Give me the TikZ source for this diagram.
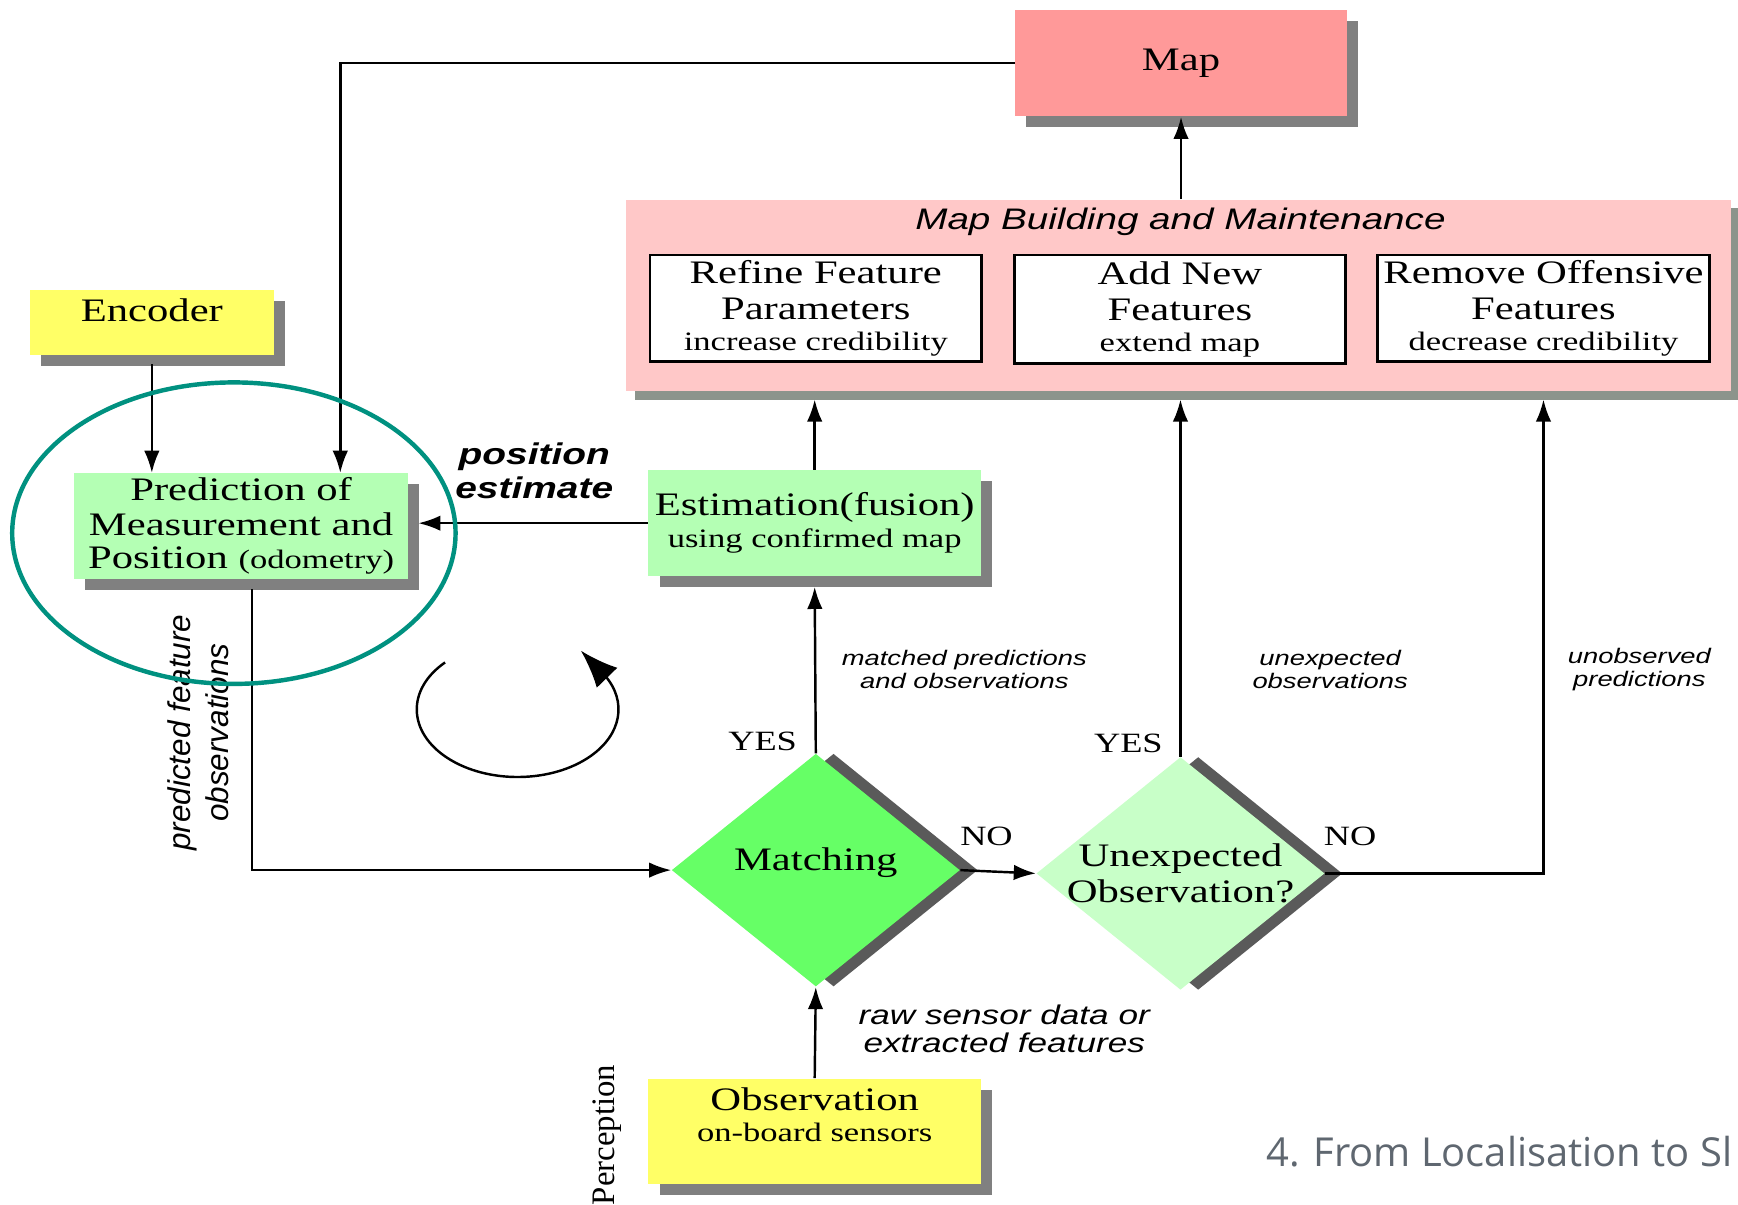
\documentclass[tikz,border=0pt]{standalone}
\usepackage{fontspec}
\setmainfont[FakeStretch=1.3]{Liberation Serif}
\newfontfamily\lblfont[FakeStretch=1.3]{Liberation Sans}
\newfontfamily\rotfont{Liberation Sans}
\newfontfamily\rotserif{Liberation Serif}
\newfontfamily\footfont{Open Sans}
\usetikzlibrary{shapes.geometric,shadows,arrows.meta,calc}

\definecolor{mapred}{RGB}{255,153,153}
\definecolor{mappink}{RGB}{255,200,200}
\definecolor{pinkshd}{RGB}{140,148,140}
\definecolor{boxshd}{RGB}{128,128,128}
\definecolor{diashd}{RGB}{90,90,90}
\definecolor{palegreen}{RGB}{180,255,180}
\definecolor{lightgreen}{RGB}{200,255,200}
\definecolor{brightgreen}{RGB}{102,255,102}
\definecolor{boxyellow}{RGB}{255,255,102}
\definecolor{ringteal}{RGB}{0,145,128}
\definecolor{footgray}{RGB}{95,103,112}

\newcommand\smalltxt{\fontsize{12}{13}\selectfont}

\begin{document}
\begin{tikzpicture}[x=0.5pt,y=-0.5pt,
  font=\fontsize{14.8}{16}\selectfont,
  box/.style={rectangle,inner sep=0pt,align=center,minimum width=150pt,minimum height=48pt,
    drop shadow={shadow xshift=5pt,shadow yshift=-5pt,fill=boxshd,opacity=1}},
  wbox/.style={rectangle,draw,line width=1.2pt,fill=white,inner sep=0pt,align=center,
    minimum width=149.5pt,minimum height=48pt},
  diam/.style={diamond,inner sep=0pt,minimum width=130pt,minimum height=105pt,
    drop shadow={shadow xshift=8pt,shadow yshift=0pt,fill=diashd,opacity=1}},
  arr/.style={line width=1.1pt,-{Latex[length=10pt,width=7pt]}},
  lbl/.style={font=\lblfont\itshape\fontsize{9.5}{10}\selectfont,align=center},
  biglbl/.style={font=\lblfont\itshape\fontsize{12.2}{12.5}\selectfont,align=center},
  yn/.style={font=\fontsize{12.6}{14}\selectfont}]
\clip (0,0) rectangle (1568,1087);

% map and map building
\node[box,fill=mapred,minimum width=149.5pt] (map) at (1065.5,57) {Map};
\node[rectangle,fill=mappink,minimum width=498.5pt,minimum height=86.5pt,
  drop shadow={shadow xshift=4pt,shadow yshift=-4pt,fill=pinkshd,opacity=1}] (mbm) at (1063.5,266.5) {};
\node[font=\lblfont\itshape\fontsize{13.4}{15}\selectfont] (mbmtitle) at (1065,200) {Map Building and Maintenance};
\node[wbox] (refine) at (736,278) {Refine Feature\\Parameters\\[-2pt]{\smalltxt increase credibility}};
\node[wbox,minimum height=49pt] (addnew) at (1064.5,279) {Add New\\Features\\[-2pt]{\smalltxt extend map}};
\node[wbox] (remove) at (1392.5,278) {Remove Offensive\\Features\\[-2pt]{\smalltxt decrease credibility}};

% left side
\node[box,fill=boxyellow,minimum width=110pt,minimum height=29pt,
  label={[yshift=5.5pt]center:Encoder}] (enc) at (137,291) {};
\node[box,fill=palegreen,minimum width=150.5pt,minimum height=47.5pt] (pred) at (217.5,474.5)
  {Prediction of\\Measurement and\\[-1pt]Position {\smalltxt (odometry)}};
\node[box,fill=palegreen] (est) at (735,472) {Estimation(fusion)\\[-1.5pt]{\smalltxt using confirmed map}};

% decisions
\node[diam,fill=brightgreen,label={[yshift=3.5pt]center:Matching}] (match) at (736,785) {};
\node[diam,fill=lightgreen,label={[align=center]center:{Unexpected\\Observation?}}] (unexp) at (1065,788) {};

% perception
\node[box,fill=boxyellow,minimum height=47.5pt] (obs) at (735,1020.5) {};
\node[align=center] (obstext) at (735,1006) {Observation\\[-2pt]{\smalltxt on-board sensors}};

% connectors
\draw[arr] (map.south |- mbm.north) -- (map.south);
\draw[arr] (map.west) -| ([xshift=44.75pt]pred.north);
\draw[arr] ([yshift=-4pt]enc.south) -- (enc.south |- pred.north);
\draw[arr] (est.west) -- ($(est.west -| pred.east)+(9,0)$);
\draw[arr] (est.north) -- ($(est.north |- mbm.south)+(0,7)$);
\draw[arr] (match.north) -- ($(est.south)+(0,9)$);
\draw[arr] (unexp.north) -- ($(unexp.north |- mbm.south)+(0,7)$);
\draw[arr] (unexp.east) -| ($(remove.south |- mbm.south)+(0,7)$);
\draw[arr] (match.east) -- (unexp.west);
\draw[arr] ($(pred.south)+(10,9)$) |- (match.west);
\draw[arr] (obs.north) -- (match.south);

% labels
\node[font=\lblfont\bfseries\itshape\fontsize{13.5}{15.5}\selectfont,align=center] (posest) at (482,425) {position\\estimate};
\node[rotate=90,align=center,font=\rotfont\itshape\fontsize{14.2}{17}\selectfont] (pfo) at (179,661) {predicted feature\\observations};
\node[lbl] (mpo) at (870,604) {matched predictions\\and observations};
\node[lbl] (ueo) at (1200,604) {unexpected\\observations};
\node[lbl] (uop) at (1479,604) {unobserved\\predictions};
\node[biglbl] (raw) at (906,928) {raw sensor data or\\extracted features};
\node[yn] (yes1) at (688,669) {YES};
\node[yn] (yes2) at (1018,671) {YES};
\node[yn] (no1) at (890,755) {NO};
\node[yn] (no2) at (1218,755) {NO};
\node[rotate=90,font=\rotserif\fontsize{14.8}{16}\selectfont] (perc) at (548,1024) {Perception};

% loop arrow and highlight
\draw[line width=1.1pt,-{Latex[length=17pt,width=13pt]}] (467,640) ++(-136:91 and 61)
  arc[start angle=-136,end angle=-390,x radius=91,y radius=61] -- (524,587);
\draw[ringteal,line width=2pt] (211,481) ellipse [x radius=200,y radius=136];

\node[font=\footfont\fontsize{18}{20}\selectfont,text=footgray,anchor=base west,inner sep=0pt] (foot)
  at (1142,1052) {4. From Localisation to Sl};
\end{tikzpicture}
\end{document}
